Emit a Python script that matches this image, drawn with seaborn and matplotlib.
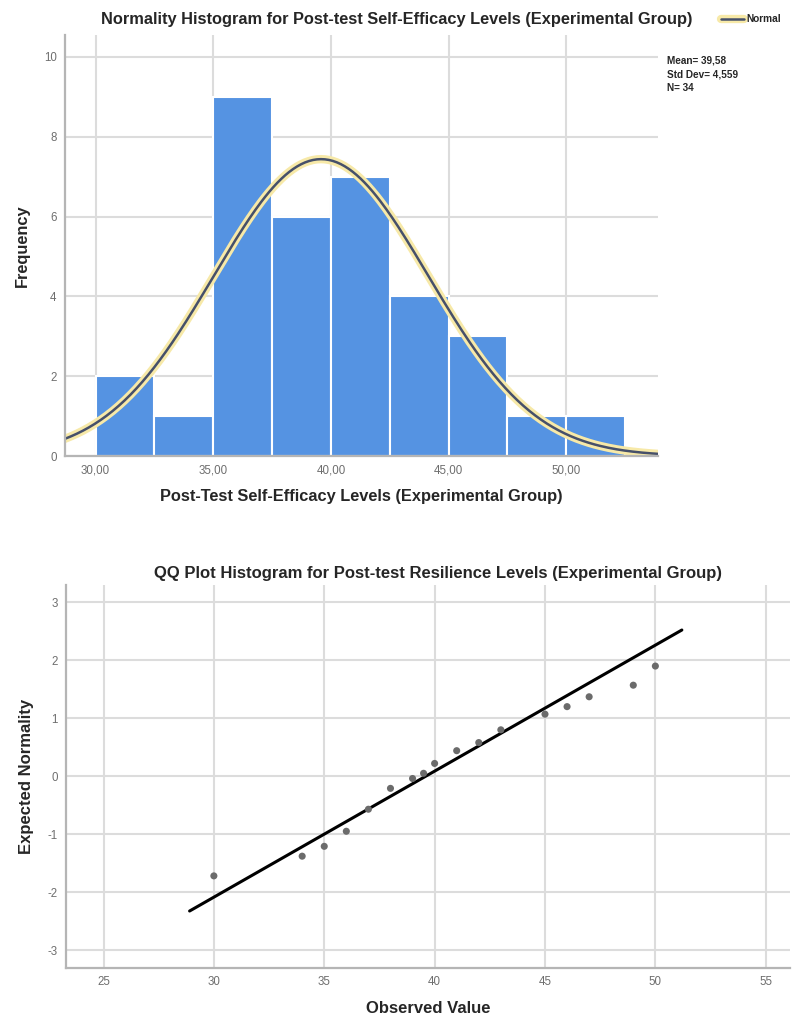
import matplotlib

matplotlib.use("Agg")
import matplotlib.patheffects as pe
import matplotlib.pyplot as plt
import numpy as np
import seaborn as sns

# histogram bins (post-test self-efficacy, experimental group)
bin_edges = [30.0, 32.5, 35.0, 37.5, 40.0, 42.5, 45.0, 47.5, 50.0, 52.5]
bin_counts = [2, 1, 9, 6, 7, 4, 3, 1, 1]
hist_mean = 39.58
hist_sd = 4.559
hist_n = 34
hist_xticks = [30, 35, 40, 45, 50]
hist_yticks = [0, 2, 4, 6, 8, 10]

# QQ plot points (post-test resilience, experimental group)
qq_observed = [30, 34, 35, 36, 37, 38, 39, 39.5, 40, 41, 42, 43, 45, 46, 47, 49, 50]
qq_expected = [-1.72, -1.38, -1.21, -0.95, -0.57, -0.21, -0.04, 0.05, 0.22,
               0.44, 0.58, 0.80, 1.07, 1.20, 1.37, 1.57, 1.90]
qq_line_x = [28.9, 51.2]
qq_line_mean = 39.6
qq_line_sd = 4.6
qq_xticks = [25, 30, 35, 40, 45, 50, 55]
qq_yticks = [-3, -2, -1, 0, 1, 2, 3]

sns.set_style("white")
plt.rcParams["font.family"] = ["Liberation Sans", "DejaVu Sans"]
plt.rcParams["axes.unicode_minus"] = False

GRID = "#dcdcdc"
SPINE = "#b5b5b5"
TICK = "#6e6e6e"
BAR = "#5593e2"

fig = plt.figure(figsize=(7.92, 10.19), dpi=100)


def style_axes(ax):
    ax.grid(True, color=GRID, linewidth=1.5)
    ax.set_axisbelow(True)
    for side in ("top", "right"):
        ax.spines[side].set_visible(False)
    for side in ("left", "bottom"):
        ax.spines[side].set_color(SPINE)
        ax.spines[side].set_linewidth(1.6)
    ax.tick_params(length=0, labelsize=8.3, labelcolor=TICK, pad=6)


# ---- top: normality histogram ----
ax1 = fig.add_axes([0.082, 0.5525, 0.749, 0.4132])
centers = [(a + b) / 2 for a, b in zip(bin_edges[:-1], bin_edges[1:])]
sns.histplot(x=centers, weights=bin_counts, bins=bin_edges, ax=ax1,
             color=BAR, alpha=1.0, edgecolor="white", linewidth=1.5)

xs = np.linspace(28.7, 53.9, 300)
curve = hist_n * 2.5 * np.exp(-0.5 * ((xs - hist_mean) / hist_sd) ** 2) / (hist_sd * np.sqrt(2 * np.pi))
sns.lineplot(x=xs, y=curve, ax=ax1, color="#46506a", linewidth=1.8, label="Normal",
             path_effects=[pe.Stroke(linewidth=6, foreground="#f7e9a8"), pe.Normal()])
ax1.get_legend().remove()

style_axes(ax1)
ax1.set_xlim(28.7, 53.9)
ax1.set_ylim(0, 10.55)
ax1.set_xticks(hist_xticks)
ax1.set_xticklabels([f"{t:.2f}".replace(".", ",") for t in hist_xticks])
ax1.set_yticks(hist_yticks)
ax1.set_title("Normality Histogram for Post-test Self-Efficacy Levels (Experimental Group)",
              fontsize=11.8, fontweight="bold", pad=8, x=0.56)
ax1.set_xlabel("Post-Test Self-Efficacy Levels (Experimental Group)", fontsize=11.8,
               fontweight="bold", labelpad=9)
ax1.set_ylabel("Frequency", fontsize=11.8, fontweight="bold", labelpad=10)

handles, labels = ax1.get_legend_handles_labels()
fig.legend(handles, labels, loc="center left", bbox_to_anchor=(0.905, 0.981), frameon=False,
           handlelength=2.3, handletextpad=0.2, borderaxespad=0.0,
           prop={"weight": "bold", "size": 7.3})
fig.text(0.842, 0.946, f"Mean= {hist_mean:.2f}".replace(".", ",") + "\n"
         + f"Std Dev= {hist_sd:.3f}".replace(".", ",") + f"\nN= {hist_n}",
         va="top", ha="left", fontsize=7.2, fontweight="bold", linespacing=1.5)

# ---- bottom: QQ plot ----
ax2 = fig.add_axes([0.0833, 0.05, 0.9142, 0.376])
sns.scatterplot(x=qq_observed, y=qq_expected, ax=ax2, color="#6b6b6b", s=26,
                edgecolor="none", zorder=3)
line_y = [(x - qq_line_mean) / qq_line_sd for x in qq_line_x]
sns.lineplot(x=qq_line_x, y=line_y, ax=ax2, color="black", linewidth=2.2, zorder=2)

style_axes(ax2)
ax2.set_xlim(23.3, 56.1)
ax2.set_ylim(-3.31, 3.3)
ax2.set_xticks(qq_xticks)
ax2.set_yticks(qq_yticks)
ax2.set_title("QQ Plot Histogram for Post-test Resilience Levels (Experimental Group)",
              fontsize=12, fontweight="bold", pad=5, x=0.514)
ax2.set_xlabel("Observed Value", fontsize=12, fontweight="bold", labelpad=9)
ax2.set_ylabel("Expected Normality", fontsize=12, fontweight="bold", labelpad=10)

fig.savefig("out.png", dpi=100)
